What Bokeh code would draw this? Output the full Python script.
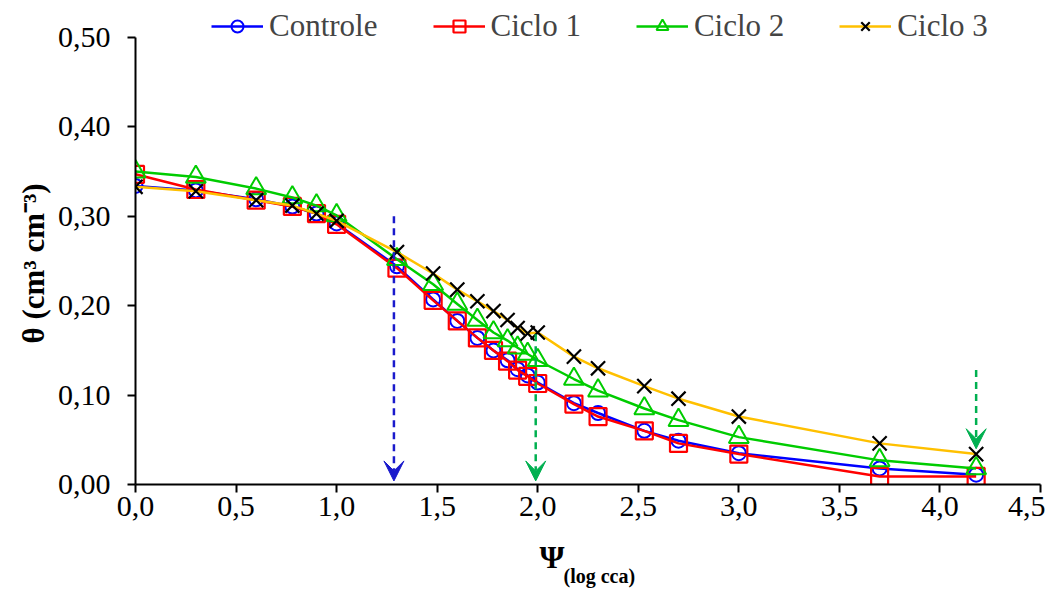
from bokeh.plotting import figure
from bokeh.models import (Range1d, Legend, LegendItem, Arrow, VeeHead, Title,
                          CustomJSTickFormatter, FixedTicker)
from bokeh.embed import file_html
from bokeh.resources import INLINE

# ---- data ----
psi = [0, 0.3, 0.6, 0.78, 0.9, 1.0, 1.3, 1.48, 1.6, 1.7, 1.78, 1.85, 1.9, 1.95, 2.0,
       2.18, 2.3, 2.53, 2.7, 3.0, 3.7, 4.18]
controle = [0.334, 0.329, 0.319, 0.311, 0.303, 0.292, 0.244, 0.207, 0.183, 0.164, 0.150,
            0.139, 0.129, 0.122, 0.114, 0.091, 0.080, 0.060, 0.049, 0.035, 0.018, 0.011]
ciclo1 = [0.347, 0.330, 0.318, 0.311, 0.303, 0.291, 0.242, 0.206, 0.183, 0.164, 0.150,
          0.138, 0.128, 0.121, 0.113, 0.090, 0.076, 0.060, 0.046, 0.034, 0.009, 0.009]
ciclo2 = [0.350, 0.344, 0.331, 0.321, 0.312, 0.301, 0.252, 0.224, 0.202, 0.184, 0.170,
          0.161, 0.153, 0.146, 0.139, 0.118, 0.105, 0.085, 0.072, 0.053, 0.027, 0.018]
ciclo3 = [0.333, 0.328, 0.318, 0.312, 0.303, 0.295, 0.260, 0.236, 0.218, 0.205, 0.194,
          0.184, 0.175, 0.169, 0.170, 0.143, 0.130, 0.110, 0.096, 0.076, 0.046, 0.034]
series_names = ["Controle", "Ciclo 1", "Ciclo 2", "Ciclo 3"]
x_ticks = [0, 0.5, 1.0, 1.5, 2.0, 2.5, 3.0, 3.5, 4.0, 4.5]
y_ticks = [0, 0.1, 0.2, 0.3, 0.4, 0.5]

# arrows (x, y_start, y_end)
arrow_x = [1.285, 1.99, 4.18]
arrow_y0 = [0.300, 0.168, 0.128]
arrow_y1 = [0.004, 0.004, 0.040]
arrow_colors = ["#1a1acc", "#00b050", "#00b050"]

FONT = "Liberation Serif"
NBSP = "\u00a0"

p = figure(output_backend="svg", toolbar_location=None,
           x_range=Range1d(0, 4.5), y_range=Range1d(0, 0.5414),
           min_border_left=135, min_border_top=0, min_border_right=5, min_border_bottom=105)
p.frame_width = 905
p.frame_height = 484
p.outline_line_color = None
p.xgrid.visible = False
p.ygrid.visible = False

for ax in (p.xaxis[0], p.yaxis[0]):
    ax.axis_line_color = "black"
    ax.axis_line_width = 2
    ax.major_tick_line_color = "black"
    ax.major_tick_line_width = 2
    ax.major_tick_out = 8
    ax.major_tick_in = 0
    ax.minor_tick_line_color = None
    ax.major_label_text_font = FONT
    ax.major_label_text_font_size = "30px"
    ax.major_label_text_color = "black"

p.yaxis[0].bounds = (0, 0.5)
p.xaxis[0].ticker = FixedTicker(ticks=x_ticks)
p.yaxis[0].ticker = FixedTicker(ticks=y_ticks)
p.xaxis[0].formatter = CustomJSTickFormatter(code="return tick.toFixed(1).replace('.', ',');")
p.yaxis[0].formatter = CustomJSTickFormatter(code="return tick.toFixed(2).replace('.', ',');")
p.xaxis[0].major_label_standoff = 4
p.yaxis[0].major_label_standoff = 17

# x-axis title main symbol (padded so it sits left of the frame centre, like the original)
p.xaxis[0].axis_label = "Ψ" + NBSP * 9
p.xaxis[0].axis_label_text_font = FONT
p.xaxis[0].axis_label_text_font_style = "bold"
p.xaxis[0].axis_label_text_font_size = "32px"
p.xaxis[0].axis_label_text_color = "black"
p.xaxis[0].axis_label_standoff = 20

# y-axis title
p.add_layout(Title(text="θ (cm³ cm⁻³)", align="left", offset=141, standoff=8,
                   text_font=FONT, text_font_style="bold", text_font_size="31px",
                   text_color="black"), "left")

# subscript of the x-axis title
p.add_layout(Title(text="(log cca)", align="left", offset=428, vertical_align="top",
                   standoff=-26, text_font=FONT, text_font_style="bold",
                   text_font_size="20px", text_color="black"), "below")

# lines + markers
l0 = p.line(psi, controle, line_color="#0000ff", line_width=2.5)
m0 = p.scatter(psi, controle, marker="circle", size=14, line_color="#0000ff", line_width=2,
               fill_color=None)
l1 = p.line(psi, ciclo1, line_color="#ff0000", line_width=2.5)
m1 = p.scatter(psi, ciclo1, marker="square", size=17, line_color="#ff0000", line_width=2.2,
               fill_color=None)
l2 = p.line(psi, ciclo2, line_color="#00cc00", line_width=2.5)
m2 = p.scatter(psi, ciclo2, marker="triangle", size=20, line_color="#00cc00", line_width=2,
               fill_color=None)
l3 = p.line(psi, ciclo3, line_color="#ffc000", line_width=2.5)
m3 = p.scatter(psi, ciclo3, marker="x", size=20, line_color="black", line_width=2.2)

for xa, y0, y1, c in zip(arrow_x, arrow_y0, arrow_y1, arrow_colors):
    p.add_layout(Arrow(x_start=xa, y_start=y0, x_end=xa, y_end=y1,
                       line_color=c, line_width=2.5, line_dash="7 5",
                       end=VeeHead(size=20, fill_color=c, line_color=c, line_width=1)))

legend = Legend(items=[
    LegendItem(label=series_names[0], renderers=[l0, m0]),
    LegendItem(label=series_names[1], renderers=[l1, m1]),
    LegendItem(label=series_names[2], renderers=[l2, m2]),
    LegendItem(label=series_names[3], renderers=[l3, m3]),
], orientation="horizontal", location=(76, 440))
legend.label_text_font = FONT
legend.label_text_font_size = "31px"
legend.glyph_width = 52
legend.glyph_height = 30
legend.label_standoff = 6
legend.spacing = 55
legend.padding = 0
legend.margin = 0
legend.border_line_color = None
legend.background_fill_alpha = 0
p.add_layout(legend, "center")

open("out.html", "w").write(file_html(p, INLINE))
